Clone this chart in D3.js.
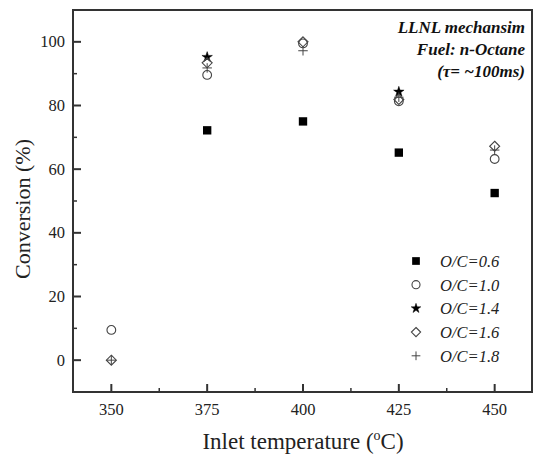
<!DOCTYPE html>
<html>
<head>
<meta charset="utf-8">
<script src="https://cdn.jsdelivr.net/npm/d3@7"></script>
<style>
html,body{margin:0;padding:0;background:#fff;}
svg{display:block;}
</style>
</head>
<body>
<svg id="chart" width="533" height="455"></svg>
<script>
// ---- data ----
const temps = [350, 375, 400, 425, 450];
const oc06 = [null, 72.2, 75.0, 65.2, 52.5];
const oc10 = [9.5, 89.6, 99.5, 81.3, 63.2];
const oc14 = [null, 95.2, null, 84.3, null];
const oc16 = [0, 93.4, 100.0, 81.9, 67.2];
const oc18 = [0, 91.8, 97.2, 82.6, 66.0];
const seriesNames = ["O/C=0.6", "O/C=1.0", "O/C=1.4", "O/C=1.6", "O/C=1.8"];
const xTicks = [350, 375, 400, 425, 450];
const yTicks = [0, 20, 40, 60, 80, 100];
const noteLines = ["LLNL mechansim", "Fuel: n-Octane", "(\u03C4= ~100ms)"];

const svg = d3.select("#chart");
const L = 73, R = 532, T = 10, B = 392;
const x = d3.scaleLinear().domain([340, 460]).range([L, R + 1]);
const y = d3.scaleLinear().domain([-10, 110]).range([B, T]);
const serif = "Liberation Serif, Times New Roman, serif";

// custom symbols
const sqSym = {draw(c, s){ const h = Math.sqrt(s)/2; c.rect(-h,-h,2*h,2*h); }};
const diaSym = {draw(c, s){ const h = Math.sqrt(s)/2; c.moveTo(0,-h); c.lineTo(h,0); c.lineTo(0,h); c.lineTo(-h,0); c.closePath(); }};
const plusSym = {draw(c, s){ const h = Math.sqrt(s)/2; c.moveTo(-h,0); c.lineTo(h,0); c.moveTo(0,-h); c.lineTo(0,h); }};

const styles = [
  {type: sqSym, size: 70, fill: "#000", stroke: "none", sw: 0},
  {type: d3.symbolCircle, size: 60, fill: "none", stroke: "#444", sw: 1.1},
  {type: d3.symbolStar, size: 34, fill: "#000", stroke: "#000", sw: 0.5},
  {type: diaSym, size: 100, fill: "none", stroke: "#444", sw: 1.1},
  {type: plusSym, size: 90, fill: "none", stroke: "#444", sw: 1.0}
];
const seriesData = [oc06, oc10, oc14, oc16, oc18];

// frame
svg.append("rect").attr("x", L).attr("y", T).attr("width", R - L).attr("height", B - T)
  .attr("fill", "none").attr("stroke", "#333").attr("stroke-width", 2);

// x axis ticks (inward)
const gx = svg.append("g");
const xMinor = d3.range(350, 461, 12.5).filter(v => !xTicks.includes(v));
gx.selectAll("line.maj").data(xTicks).join("line")
  .attr("x1", d => x(d)).attr("x2", d => x(d)).attr("y1", B).attr("y2", B - 8)
  .attr("stroke", "#333").attr("stroke-width", 2);
gx.selectAll("line.min").data(xMinor).join("line")
  .attr("x1", d => x(d)).attr("x2", d => x(d)).attr("y1", B).attr("y2", B - 4)
  .attr("stroke", "#333").attr("stroke-width", 1.5);
gx.selectAll("text").data(xTicks).join("text")
  .attr("x", d => x(d)).attr("y", 415).attr("text-anchor", "middle")
  .attr("font-family", serif).attr("font-size", 16.5)
  .attr("fill", "#222").text(d => d);

// y axis ticks
const gy = svg.append("g");
const yMinor = d3.range(-10, 111, 10).filter(v => !yTicks.includes(v) && v > -10 && v < 110);
gy.selectAll("line.maj").data(yTicks).join("line")
  .attr("x1", L).attr("x2", L + 8).attr("y1", d => y(d)).attr("y2", d => y(d))
  .attr("stroke", "#333").attr("stroke-width", 2);
gy.selectAll("line.min").data(yMinor).join("line")
  .attr("x1", L).attr("x2", L + 4).attr("y1", d => y(d)).attr("y2", d => y(d))
  .attr("stroke", "#333").attr("stroke-width", 1.5);
gy.selectAll("text").data(yTicks).join("text")
  .attr("x", 65).attr("y", d => y(d) + 5.5).attr("text-anchor", "end")
  .attr("font-family", serif).attr("font-size", 16.5)
  .attr("fill", "#222").text(d => d);

// axis titles
svg.append("text").attr("transform", `translate(30,${(T + B) / 2 + 8}) rotate(-90)`)
  .attr("text-anchor", "middle").attr("font-family", serif)
  .attr("font-size", 22).attr("fill", "#222").text("Conversion (%)");
const xt = svg.append("text").attr("x", 303).attr("y", 449).attr("text-anchor", "middle")
  .attr("font-family", serif).attr("font-size", 23).attr("fill", "#222");
xt.append("tspan").text("Inlet temperature (");
xt.append("tspan").attr("font-size", 14).attr("dy", -9).text("o");
xt.append("tspan").attr("dy", 9).text("C)");

// data points
const gp = svg.append("g");
seriesData.forEach((vals, i) => {
  const st = styles[i];
  const pts = temps.map((t, j) => ({t, v: vals[j]})).filter(d => d.v !== null);
  gp.selectAll(null).data(pts).join("path")
    .attr("transform", d => `translate(${x(d.t)},${y(d.v)})`)
    .attr("d", d3.symbol().type(st.type).size(st.size)())
    .attr("fill", st.fill).attr("stroke", st.stroke).attr("stroke-width", st.sw);
});

// legend
const lg = svg.append("g");
seriesNames.forEach((name, i) => {
  const st = styles[i];
  const yy = 261 + i * 23.7;
  lg.append("path").attr("transform", `translate(416,${yy})`)
    .attr("d", d3.symbol().type(st.type).size(st.size * 0.85)())
    .attr("fill", st.fill).attr("stroke", st.stroke).attr("stroke-width", st.sw);
  lg.append("text").attr("x", 440).attr("y", yy + 6)
    .attr("font-family", serif).attr("font-style", "italic")
    .attr("font-size", 16.5).attr("fill", "#222").text(name);
});

// annotation
noteLines.forEach((t, i) => {
  svg.append("text").attr("x", 525).attr("y", 33 + i * 22).attr("text-anchor", "end")
    .attr("font-family", serif).attr("font-style", "italic")
    .attr("font-weight", "bold").attr("font-size", 17).attr("fill", "#111").text(t);
});
</script>
</body>
</html>
